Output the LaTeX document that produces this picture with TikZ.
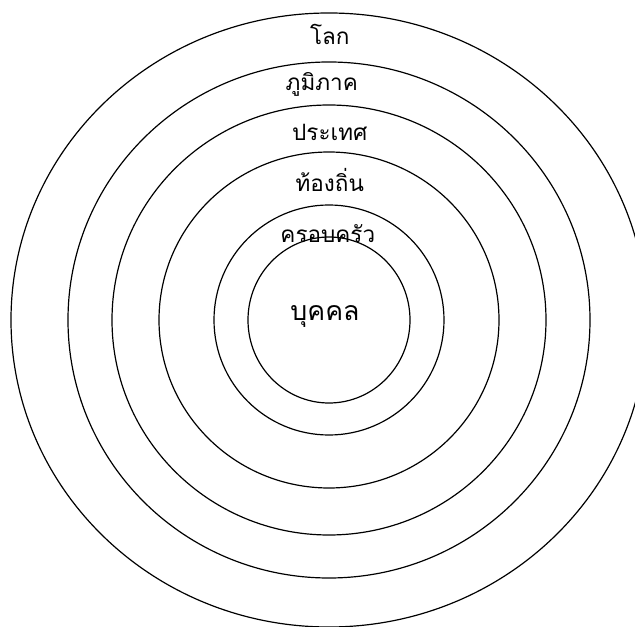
\documentclass[tikz,border=0pt]{standalone}
\usepackage{fontspec}
\newfontfamily\thaifont[Script=Thai]{Loma}
\usetikzlibrary{positioning}

\begin{document}
\begin{tikzpicture}[ring/.style={draw, line width=0.85pt},
		lbl/.style={font=\thaifont\fontsize{16}{16}\selectfont, inner sep=0pt}]
			\clip (-8.225,-7.675) rectangle (7.65,8.0);
			\useasboundingbox (-8.225,-7.675) rectangle (7.65,8.0);
			
			\draw[ring] (0,0) ellipse [x radius=7.95, y radius=7.675];
			\draw[ring] (0,0) ellipse [x radius=6.525, y radius=6.45];
			\draw[ring] (0,0) ellipse [x radius=5.425, y radius=5.375];
			\draw[ring] (0,0) ellipse [x radius=4.25, y radius=4.2];
			\draw[ring] (0,0) circle (2.875);
			\draw[ring] (0,0) ellipse [x radius=2.025, y radius=2.075];
			
			\node[lbl] (world) at (0.02,7.15) {โลก};
			\node[lbl] (region) at (-0.18,5.9) {ภูมิภาค};
			\node[lbl] (country) at (0.02,4.7) {ประเทศ};
			\node[lbl] (local) at (0.02,3.5) {ท้องถิ่น};
			\node[lbl] (family) at (-0.03,2.15) {ครอบครัว};
			\node[lbl, font=\thaifont\fontsize{19}{19}\selectfont] (person) at (-0.1,0.1) {บุคคล};
		\end{tikzpicture}
\end{document}
